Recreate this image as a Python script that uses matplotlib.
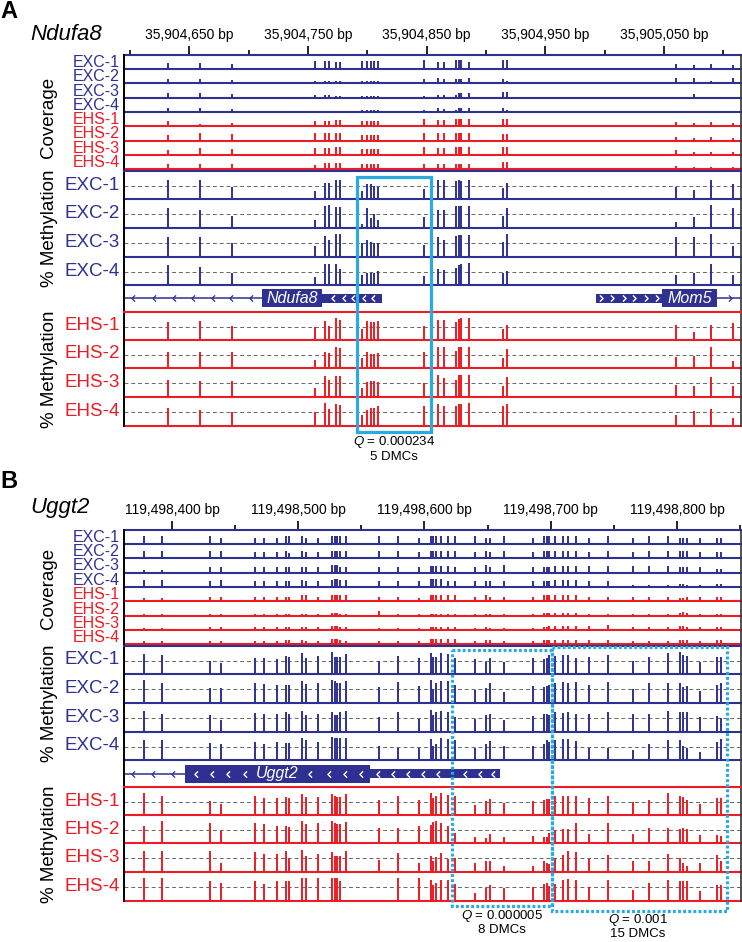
import matplotlib.pyplot as plt
from matplotlib.patches import Rectangle
from matplotlib.path import Path

plt.rcParams["font.family"] = ["Liberation Sans", "DejaVu Sans"]
plt.rcParams["mathtext.fontset"] = "custom"
plt.rcParams["mathtext.it"] = "Liberation Sans:italic"
plt.rcParams["mathtext.rm"] = "Liberation Sans"

BLUE = "#2E3192"
RED = "#ED1C24"
CYAN = "#29ABE2"
W, H = 742, 942

EXC = ["EXC-1", "EXC-2", "EXC-3", "EXC-4"]
EHS = ["EHS-1", "EHS-2", "EHS-3", "EHS-4"]

# ---------------- panel A: Ndufa8 ----------------
A_RANGE = (35904595, 35905115)
A_MAJOR = [35904650, 35904750, 35904850, 35904950, 35905050]
A_CPG = [35904632, 35904659, 35904686, 35904756, 35904764, 35904768, 35904774,
         35904777, 35904796, 35904800, 35904803, 35904806, 35904809, 35904848,
         35904860, 35904865, 35904875, 35904877, 35904879, 35904886, 35904914,
         35904918, 35905060, 35905075, 35905090, 35905108]
# read depth
A_COV = {
    "EXC-1": [24, 24, 21, 34, 34, 34, 30, 30, 34, 34, 34, 34, 34, 38, 28, 28, 38, 38, 38, 28, 38, 38, 20, 17, 20, 17],
    "EXC-2": [19, 19, 14, 10, 10, 10, 10, 10, 7, 7, 7, 7, 7, 19, 20, 17, 17, 17, 17, 20, 17, 10, 20, 20, 10, 20],
    "EXC-3": [19, 19, 16, 14, 14, 14, 7, 7, 7, 7, 7, 7, 7, 9, 13, 13, 11, 19, 19, 19, 23, 23, 4, 16, 4, 4],
    "EXC-4": [17, 17, 14, 6, 6, 6, 6, 6, 9, 9, 9, 9, 9, 7, 16, 13, 9, 16, 16, 16, 16, 9, 4, 4, 4, 4],
    "EHS-1": [20, 9, 13, 20, 20, 20, 27, 27, 20, 20, 20, 20, 20, 30, 27, 27, 30, 30, 30, 31, 31, 31, 17, 14, 17, 14],
    "EHS-2": [24, 31, 27, 31, 31, 31, 31, 31, 24, 24, 24, 24, 24, 31, 31, 31, 31, 31, 31, 31, 27, 27, 17, 14, 17, 14],
    "EHS-3": [21, 31, 26, 29, 29, 29, 33, 33, 26, 26, 26, 26, 26, 34, 29, 29, 34, 34, 34, 34, 34, 34, 21, 11, 11, 11],
    "EHS-4": [21, 21, 21, 16, 26, 26, 26, 26, 21, 21, 21, 21, 21, 23, 23, 23, 23, 23, 23, 23, 30, 30, 11, 9, 9, 9],
}
# % methylation
A_METH = {
    "EXC-1": [72, 72, 46, 29, 60, 60, 72, 69, 31, 54, 56, 50, 46, 36, 71, 71, 66, 71, 66, 72, 41, 60, 44, 34, 69, 54],
    "EXC-2": [72, 63, 44, 29, 78, 82, 74, 74, 13, 72, 35, 51, 29, 41, 66, 66, 80, 80, 80, 78, 44, 72, 23, 38, 82, 72],
    "EXC-3": [73, 70, 49, 39, 76, 61, 82, 82, 49, 61, 55, 52, 52, 43, 70, 61, 76, 79, 79, 79, 55, 82, 70, 70, 82, 39],
    "EXC-4": [73, 67, 45, 29, 79, 79, 79, 61, 37, 46, 46, 45, 51, 34, 61, 54, 63, 73, 77, 80, 45, 51, 39, 45, 79, 39],
    "EHS-1": [66, 72, 51, 48, 72, 51, 80, 76, 39, 72, 68, 66, 71, 51, 76, 76, 68, 78, 80, 80, 39, 56, 56, 29, 54, 62],
    "EHS-2": [61, 61, 61, 30, 59, 55, 77, 73, 37, 61, 52, 52, 55, 61, 77, 77, 65, 78, 77, 78, 39, 71, 40, 45, 78, 27],
    "EHS-3": [62, 59, 59, 34, 77, 62, 74, 77, 34, 54, 59, 56, 54, 50, 80, 68, 62, 78, 80, 78, 38, 72, 44, 41, 72, 38],
    "EHS-4": [63, 57, 49, 51, 82, 61, 78, 76, 41, 57, 66, 63, 70, 70, 78, 72, 73, 78, 78, 82, 73, 79, 41, 54, 60, 29],
}
A_GENES = [
    dict(name="Ndufa8", strand="-", line=(A_RANGE[0], 35904711.5),
         tall=(35904711.5, 35904762), thin=(35904762, 35904812.5),
         line_chev=[35904603, 35904620, 35904637, 35904653, 35904670, 35904685, 35904702],
         box_chev=[35904771, 35904780, 35904788, 35904797, 35904805]),
    dict(name="Mom5", strand="+", line=(35905094.6, A_RANGE[1]),
         tall=(35905048.3, 35905094.6), thin=(35904992.7, 35905048.3),
         line_chev=[35905105.6],
         box_chev=[35904997, 35905006, 35905016, 35905025, 35905035, 35905044]),
]
A_BOXES = [(35904791.5, 35904853.8, 177, 432, "-")]
A_NOTES = [(35904822.6, 442, 457, "$Q$ = 0.000234", "5 DMCs")]

# ---------------- panel B: Uggt2 ----------------
B_RANGE = (119498362, 119498850.7)
B_MAJOR = [119498400, 119498500, 119498600, 119498700, 119498800]
B_CPG = [119498000 + p for p in [
    378, 392, 430, 439, 466, 473, 483, 490, 493, 503,
    506, 516, 527, 529, 531, 533, 538, 564, 579, 596,
    605, 607, 609, 613, 619, 624, 640, 649, 652, 663,
    686, 695, 697, 699, 703, 710, 714, 720, 730, 745,
    765, 778, 793, 802, 805, 808, 818, 832, 835]]
B_COV = {
    "EXC-1": [34, 34, 34, 27, 27, 27, 27, 34, 34, 34, 27, 27, 34, 34, 34, 34, 34, 34, 34, 27,
              34, 34, 34, 34, 34, 34, 34, 27, 27, 34, 27, 34, 34, 34, 34, 34, 34, 34, 27, 34,
              27, 34, 34, 27, 27, 27, 27, 27, 27],
    "EXC-2": [31, 31, 31, 31, 24, 24, 24, 31, 21, 31, 24, 24, 31, 31, 31, 31, 31, 31, 31, 24,
              31, 31, 31, 31, 31, 31, 24, 31, 24, 31, 24, 31, 31, 31, 31, 31, 31, 31, 24, 31,
              24, 31, 31, 31, 31, 31, 24, 24, 24],
    "EXC-3": [14, 14, 24, 24, 24, 24, 24, 24, 24, 24, 24, 24, 34, 34, 34, 24, 24, 24, 24, 24,
              27, 27, 27, 27, 27, 24, 24, 34, 24, 34, 24, 24, 24, 24, 27, 27, 27, 27, 27, 27,
              27, 27, 27, 24, 24, 24, 24, 17, 17],
    "EXC-4": [29, 29, 24, 29, 24, 24, 24, 24, 24, 29, 24, 24, 29, 34, 34, 29, 29, 24, 24, 24,
              34, 34, 34, 34, 24, 24, 24, 24, 24, 24, 24, 24, 24, 24, 29, 29, 29, 29, 24, 24,
              9, 9, 9, 13, 13, 9, 9, 13, 13],
    "EHS-1": [13, 13, 17, 17, 17, 17, 17, 17, 17, 24, 24, 17, 27, 27, 27, 24, 24, 17, 17, 13,
              24, 24, 24, 24, 24, 24, 17, 24, 17, 17, 17, 24, 24, 24, 24, 24, 24, 24, 17, 17,
              17, 17, 17, 13, 13, 17, 17, 17, 17],
    "EHS-2": [7, 7, 10, 10, 10, 10, 10, 10, 10, 10, 10, 10, 13, 13, 13, 10, 10, 19, 7, 10,
              10, 10, 10, 10, 10, 10, 10, 10, 10, 10, 10, 13, 13, 13, 13, 13, 13, 13, 10, 10,
              10, 10, 10, 13, 17, 13, 10, 10, 10],
    "EHS-3": [9, 9, 11, 11, 11, 11, 11, 11, 11, 11, 11, 11, 17, 17, 17, 11, 11, 9, 9, 9,
              14, 14, 14, 14, 14, 14, 9, 14, 9, 9, 9, 11, 14, 17, 17, 17, 17, 17, 17, 21,
              11, 11, 11, 17, 17, 14, 11, 14, 14],
    "EHS-4": [11, 11, 13, 13, 13, 13, 13, 16, 16, 16, 13, 13, 21, 21, 21, 16, 13, 11, 11, 11,
              21, 21, 21, 21, 21, 21, 11, 16, 16, 11, 11, 16, 16, 16, 16, 16, 16, 16, 16, 16,
              11, 11, 11, 16, 16, 16, 11, 16, 16],
}
B_METH = {
    "EXC-1": [73, 71, 50, 40, 61, 59, 55, 68, 62, 77, 59, 67, 80, 62, 65, 65, 73, 49, 68, 59,
              79, 65, 65, 77, 74, 59, 55, 46, 59, 46, 59, 55, 59, 71, 68, 71, 71, 59, 62, 71,
              50, 62, 77, 80, 71, 67, 43, 62, 62],
    "EXC-2": [82, 72, 54, 54, 72, 68, 63, 66, 63, 78, 68, 72, 82, 78, 72, 72, 78, 56, 76, 60,
              84, 50, 72, 80, 78, 63, 45, 54, 70, 41, 60, 56, 60, 66, 72, 74, 72, 74, 66, 74,
              50, 72, 72, 72, 57, 60, 44, 66, 72],
    "EXC-3": [76, 65, 61, 43, 67, 65, 65, 73, 65, 77, 61, 65, 70, 61, 61, 73, 77, 55, 73, 46,
              79, 61, 73, 77, 73, 55, 45, 61, 65, 43, 57, 65, 65, 61, 73, 67, 73, 65, 65, 70,
              65, 65, 76, 73, 73, 73, 55, 57, 52],
    "EXC-4": [76, 76, 63, 59, 67, 61, 67, 63, 65, 83, 73, 67, 85, 83, 83, 83, 83, 51, 43, 43,
              79, 51, 61, 83, 78, 76, 45, 61, 70, 51, 51, 61, 73, 67, 73, 77, 79, 71, 45, 45,
              39, 61, 76, 73, 51, 46, 30, 67, 79],
    "EHS-1": [82, 70, 51, 41, 70, 63, 63, 66, 63, 78, 66, 68, 78, 72, 66, 66, 78, 56, 72, 54,
              80, 63, 72, 80, 76, 70, 39, 51, 60, 44, 52, 57, 60, 60, 72, 72, 72, 72, 62, 72,
              48, 57, 80, 72, 66, 57, 41, 63, 63],
    "EHS-2": [63, 82, 73, 45, 73, 70, 65, 65, 61, 82, 71, 76, 82, 76, 70, 71, 79, 55, 55, 65,
              67, 79, 83, 76, 65, 39, 22, 18, 34, 22, 27, 22, 22, 39, 49, 51, 51, 76, 34, 76,
              34, 55, 55, 51, 55, 51, 30, 28, 27],
    "EHS-3": [77, 77, 77, 32, 71, 66, 66, 77, 48, 78, 59, 66, 71, 59, 59, 59, 77, 44, 68, 34,
              59, 41, 54, 68, 46, 50, 32, 38, 38, 20, 20, 38, 32, 29, 50, 62, 74, 71, 46, 62,
              38, 38, 66, 50, 34, 22, 32, 62, 38],
    "EHS-4": [82, 82, 70, 63, 70, 61, 70, 70, 70, 82, 82, 82, 82, 82, 82, 70, 0, 0, 82, 82,
              76, 57, 63, 76, 76, 61, 27, 45, 57, 45, 51, 61, 66, 54, 61, 76, 78, 76, 51, 76,
              41, 63, 76, 73, 70, 73, 37, 57, 57],
}
B_GENES = [
    dict(name="Uggt2", strand="-", line=(B_RANGE[0], 119498410.3),
         tall=(119498410.3, 119498556.8), thin=(119498556.8, 119498659.8),
         line_chev=[119498369, 119498385, 119498401],
         box_chev=[119498419, 119498432, 119498444, 119498458, 119498509, 119498524,
                   119498537, 119498550, 119498563, 119498575, 119498587, 119498599,
                   119498611, 119498632, 119498644, 119498654]),
]
B_BOXES = [(119498621.8, 119498701.0, 650, 906, ":"),
           (119498701.0, 119498839.6, 647, 911, ":")]
B_NOTES = [(119498661.4, 916, 930, "$Q$ = 0.000005", "8 DMCs"),
           (119498769.1, 920, 934, "$Q$ = 0.001", "15 DMCs")]

fig = plt.figure(figsize=(W / 100, H / 100), dpi=100)

CHEV_L = Path([(0.5, 1), (-0.5, 0), (0.5, -1)], [Path.MOVETO, Path.LINETO, Path.LINETO])
CHEV_R = Path([(-0.5, 1), (0.5, 0), (-0.5, -1)], [Path.MOVETO, Path.LINETO, Path.LINETO])


def px_axes(top, bottom, left=124, right=741):
    return fig.add_axes([left / W, 1 - bottom / H, (right - left) / W, (bottom - top) / H])


def ftext(x, y, s, **kw):
    fig.text(x / W, 1 - y / H, s, **kw)


def tracks(rows, names, xlim, cpg, data, ymax, meth, size):
    for (top, base), name in zip(rows, names):
        color = BLUE if name.startswith("EXC") else RED
        ax = px_axes(top, base)
        ax.set_xlim(xlim)
        ax.set_ylim(0, ymax)
        ax.axis("off")
        if meth:
            ax.axhline(50, color="#666666", lw=0.7, ls=(0, (4, 3)), zorder=0)
        ax.vlines(cpg, 0, data[name], color=color, lw=1.4)
        ax.axhline(0, color=color, lw=1.5, clip_on=False)
        ftext(120, (top + base) / 2 + (0 if meth else 0.5), name, color=color,
              fontsize=size, ha="right", va="center")


def gene_track(top, base, xlim, genes):
    ax = px_axes(top, base)
    ax.set_xlim(xlim)
    ax.set_ylim(-1.5, 1.5)
    ax.axis("off")
    for g in genes:
        ax.plot(g["line"], [0, 0], color=BLUE, lw=1.1)
        chev = CHEV_L if g["strand"] == "-" else CHEV_R
        ax.plot(g["line_chev"], [0] * len(g["line_chev"]), ls="none", marker=chev,
                ms=4.5, mec=BLUE, mfc="none", mew=0.9)
        t0, t1 = g["tall"]
        ax.add_patch(Rectangle((t0, -1), t1 - t0, 2, color=BLUE, lw=0))
        h0, h1 = g["thin"]
        ax.add_patch(Rectangle((h0, -0.45), h1 - h0, 0.9, color=BLUE, lw=0))
        ax.plot(g["box_chev"], [0] * len(g["box_chev"]), ls="none", marker=chev,
                ms=4.5, mec="white", mfc="none", mew=1.0, zorder=3)
        ax.text((t0 + t1) / 2, 0, g["name"], color="white", style="italic",
                fontsize=11.5, ha="center", va="center", zorder=4,
                bbox=dict(boxstyle="square,pad=0.05", fc=BLUE, ec="none"))


def panel(dy, xlim, major, cpg, cov, meth, genes, boxes, notes):
    cov_rows = [(55, 69), (69, 83), (83, 98), (98, 112), (112, 126), (126, 141),
                (141, 155), (155, 169)]
    exc_rows = [(171, 199), (199, 228), (228, 257), (257, 285)]
    ehs_rows = [(312, 340), (340, 368), (368, 397), (397, 426)]
    shift = lambda rows: [(a + dy, b + dy) for a, b in rows]

    tracks(shift(cov_rows), EXC + EHS, xlim, cpg, cov, 60, False, 11.5)
    tracks(shift(exc_rows), EXC, xlim, cpg, meth, 104, True, 13.5)
    tracks(shift(ehs_rows), EHS, xlim, cpg, meth, 104, True, 13.5)
    gene_track(285 + dy, 312 + dy, xlim, genes)

    # overlay: ruler, frame, DMC boxes (y in pixel rows)
    ov = px_axes(dy, dy + 470)
    ov.set_xlim(xlim)
    ov.set_ylim(dy + 470, dy)
    ov.axis("off")
    minor = [m + 50 for m in [major[0] - 100] + major]
    minor = [m for m in minor if xlim[0] <= m <= xlim[1]]
    ov.vlines(major, dy + 46, dy + 55, color="black", lw=1.2)
    ov.vlines(minor, dy + 49.5, dy + 55, color="black", lw=1.2)
    for m in major:
        ov.text(m, dy + 39, f"{m:,} bp", ha="center", va="baseline", fontsize=10)
    ov.plot(xlim, [dy + 55, dy + 55], color=BLUE, lw=1.5, clip_on=False)
    ov.plot([xlim[0]] * 2, [dy + 55, dy + 426], color="black", lw=1.4, clip_on=False)
    ov.plot([xlim[1]] * 2, [dy + 55, dy + 426], color="#333333", lw=1.2, clip_on=False)
    ov.plot(xlim, [dy + 171, dy + 171], color=BLUE, lw=1.5, clip_on=False)
    ov.plot(xlim, [dy + 312, dy + 312], color=RED, lw=1.5, clip_on=False)
    for x0, x1, y0, y1, ls in boxes:
        style = "-" if ls == "-" else (0, (0.9, 0.7))
        ov.add_patch(Rectangle((x0, y0), x1 - x0, y1 - y0, fill=False, ec=CYAN,
                               lw=2.3, ls=style, clip_on=False, zorder=5))
    for x, y1, y2, q, n in notes:
        ov.text(x, y1, q, ha="center", va="center", fontsize=9.5, clip_on=False)
        ov.text(x, y2, n, ha="center", va="center", fontsize=9.5, clip_on=False)


panel(0, A_RANGE, A_MAJOR, A_CPG, A_COV, A_METH, A_GENES, A_BOXES, A_NOTES)
panel(475, B_RANGE, B_MAJOR, B_CPG, B_COV, B_METH, B_GENES, B_BOXES, B_NOTES)

# side labels
for y, s in [(117, "Coverage"), (228, "% Methylation"), (369, "% Methylation"),
             (588, "Coverage"), (703, "% Methylation"), (844, "% Methylation")]:
    ftext(49, y, s, rotation=90, ha="center", va="center", fontsize=13.5)

ftext(0, 11.5, "A", fontsize=17, fontweight="bold", ha="left", va="center")
ftext(0, 482, "B", fontsize=17, fontweight="bold", ha="left", va="center")
ftext(30, 40, "Ndufa8", fontsize=16, style="italic", ha="left", va="baseline")
ftext(30, 513, "Uggt2", fontsize=16, style="italic", ha="left", va="baseline")

fig.savefig("out.png", dpi=100)
